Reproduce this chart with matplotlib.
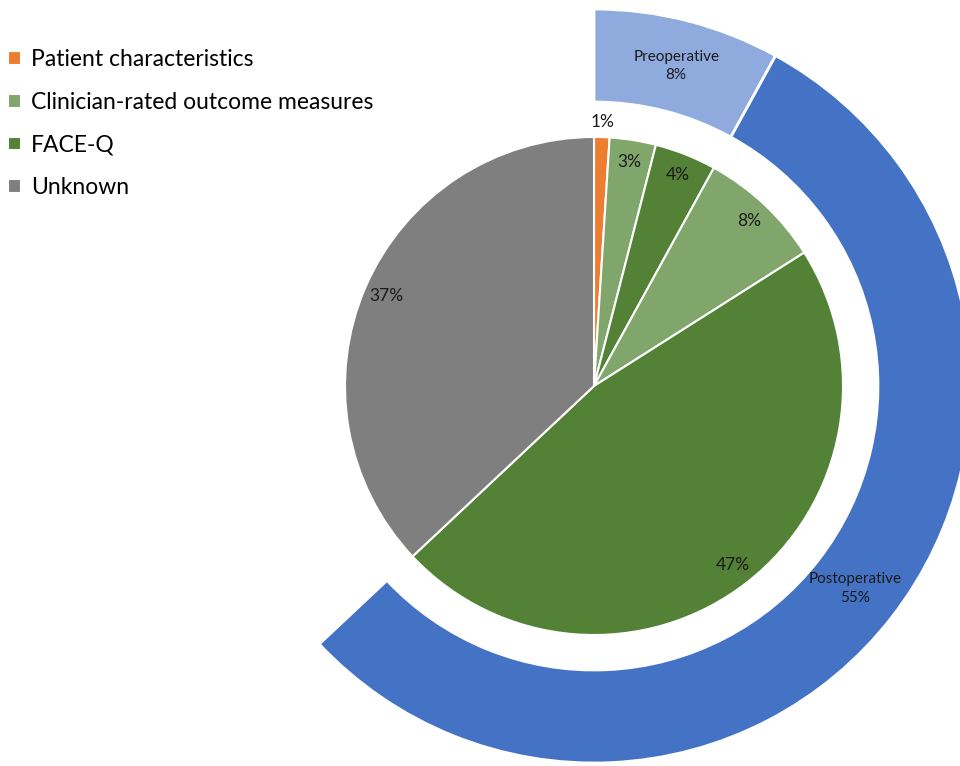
import numpy as np
import matplotlib.pyplot as plt

# inner pie: outcome measure categories (clockwise from 12 o'clock)
inner_vals = [1, 3, 4, 8, 47, 37]
inner_cats = ['Patient characteristics', 'Clinician-rated outcome measures', 'FACE-Q',
              'Clinician-rated outcome measures', 'FACE-Q', 'Unknown']
# outer ring: timing
outer_vals = [8, 55, 37]
outer_names = ['Preoperative', 'Postoperative', '']

cat_colors = {'Patient characteristics': '#ED7D31',
              'Clinician-rated outcome measures': '#80A66C',
              'FACE-Q': '#538135',
              'Unknown': '#7F7F7F'}
outer_colors = ['#8FAADC', '#4472C4', 'none']

plt.rcParams['font.family'] = ['Lato', 'DejaVu Sans']

fig = plt.figure(figsize=(9.6, 7.66), dpi=100)
ax = fig.add_axes([0, 0, 1, 1])

cx, cy = 594, 380
r_in = 249
r_out, ring_w = 377, 93

wedges, texts, autotexts = ax.pie(
    inner_vals, colors=[cat_colors[c] for c in inner_cats], radius=r_in,
    center=(cx, cy), startangle=90, counterclock=False,
    autopct='%d%%', pctdistance=0.91, frame=True,
    wedgeprops=dict(edgecolor='white', linewidth=1.5),
    textprops=dict(fontsize=12.5, color='#1a1a1a'))
# the tiny 1% slice gets its label just outside the pie
th = np.deg2rad(90 - 360 * inner_vals[0] / 200)
autotexts[0].set_position((cx + 1.06 * r_in * np.cos(th), cy + 1.06 * r_in * np.sin(th)))

owedges, _ = ax.pie(
    outer_vals, colors=outer_colors, radius=r_out, center=(cx, cy),
    startangle=90, counterclock=False, frame=True,
    wedgeprops=dict(width=ring_w, edgecolor='white', linewidth=2))
owedges[-1].set_edgecolor('none')

total = sum(outer_vals)
start = 0
r_mid = r_out - ring_w / 2
for v, name in zip(outer_vals, outer_names):
    if name:
        a = np.deg2rad(90 - 360 * (start + v / 2) / total)
        ax.text(cx + r_mid * np.cos(a), cy + r_mid * np.sin(a),
                f'{name}\n{v}%', ha='center', va='center', fontsize=11,
                color='#1a1a1a', linespacing=1.4)
    start += v

ax.set_xlim(0, 960)
ax.set_ylim(0, 766)
ax.set_aspect('equal')
ax.axis('off')

leg_idx = [0, 1, 2, 5]
fig.legend([wedges[i] for i in leg_idx], [inner_cats[i] for i in leg_idx],
           loc='upper left', bbox_to_anchor=(0.004, 0.942), frameon=False,
           fontsize=16.5, handlelength=0.55, handleheight=0.55, handletextpad=0.45,
           labelspacing=0.95, borderaxespad=0.0, borderpad=0.2)

fig.savefig('out.png', dpi=100, facecolor='white')
